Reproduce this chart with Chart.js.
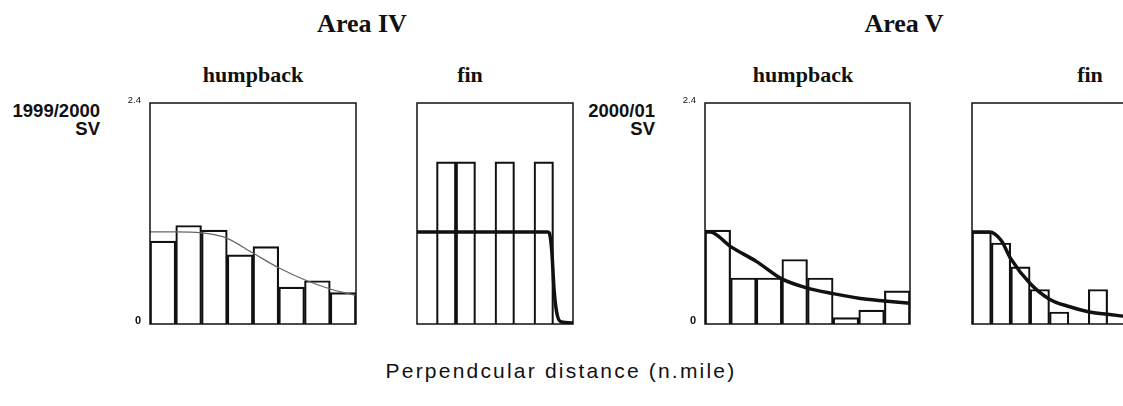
<!DOCTYPE html>
<html><head><meta charset="utf-8">
<script src="https://cdn.jsdelivr.net/npm/chart.js@4.4.0/dist/chart.umd.min.js"></script>
<style>
html,body{margin:0;padding:0;background:#fff;}
body{width:1123px;height:406px;overflow:hidden;position:relative;}
canvas{position:absolute;}
.t{position:absolute;white-space:nowrap;color:#111;line-height:1;}
.area{font:bold 26px "Liberation Serif",serif;transform:translateX(-50%);top:9px;}
.sp{font:bold 22px "Liberation Serif",serif;transform:translateX(-50%);top:62px;}
.yr{font:bold 18.5px "Liberation Sans",Arial,sans-serif;transform:translateX(-100%);text-align:right;}
.xt{font:21px "Liberation Sans",Arial,sans-serif;transform:translateX(-50%);top:359px;letter-spacing:2.2px;}
</style></head>
<body>
<div class="t area" style="left:362px">Area IV</div>
<div class="t area" style="left:904px">Area V</div>
<div class="t sp" style="left:253px">humpback</div>
<div class="t sp" style="left:470px">fin</div>
<div class="t sp" style="left:803px">humpback</div>
<div class="t sp" style="left:1090px">fin</div>
<div class="t yr" style="left:100px;top:100px">1999/2000</div>
<div class="t yr" style="left:100px;top:118px">SV</div>
<div class="t yr" style="left:655px;top:100px">2000/01</div>
<div class="t yr" style="left:655px;top:118px">SV</div>
<div class="t xt" style="left:561px">Perpendcular distance (n.mile)</div>

<canvas id="p1" width="260" height="240" style="left:100px;top:93px"></canvas>
<canvas id="p2" width="220" height="240" style="left:360px;top:93px"></canvas>
<canvas id="p3" width="260" height="240" style="left:655px;top:93px"></canvas>
<canvas id="p4" width="220" height="240" style="left:915px;top:93px"></canvas>

<script>
// distance bins (bin centres, in bin units) and axis tick labels
const binCenters = [0.5, 1.5, 2.5, 3.5, 4.5, 5.5, 6.5, 7.5];
const yTickValues = [0, 2.4];
const yTickLabels = ['0', '2.4'];

// Area IV, humpback
const ivHumpBars = [0.90, 1.07, 1.02, 0.75, 0.84, 0.40, 0.47, 0.34];
const ivHumpCurveX = [0, 1, 2, 2.5, 3, 4, 5, 6, 7, 8];
const ivHumpCurveY = [1.00, 1.00, 0.99, 0.97, 0.93, 0.77, 0.61, 0.48, 0.38, 0.31];

// Area IV, fin
const ivFinBars = [0, 1.76, 1.76, 0, 1.76, 0, 1.76, 0];
const ivFinCurveX = [0, 6.7, 6.78, 6.91, 7.03, 7.17, 7.37, 8];
const ivFinCurveY = [1.00, 1.00, 0.99, 0.80, 0.37, 0.12, 0.025, 0.01];

// Area V, humpback
const vHumpBars = [1.02, 0.50, 0.50, 0.70, 0.50, 0.07, 0.15, 0.36];
const vHumpCurveX = [0, 0.2, 1, 2, 3, 4, 5, 6, 7, 8];
const vHumpCurveY = [1.00, 1.00, 0.84, 0.68, 0.49, 0.39, 0.33, 0.28, 0.25, 0.225];

// Area V, fin
const vFinBars = [1.00, 0.88, 0.62, 0.375, 0.13, 0, 0.375, 0];
const vFinCurveX = [0, 0.9, 1.5, 2, 3, 4, 5, 6, 7, 8];
const vFinCurveY = [1.00, 1.00, 0.91, 0.71, 0.44, 0.27, 0.19, 0.134, 0.105, 0.08];

const framePlugin = {
  id: 'frame',
  afterDatasetsDraw(chart) {
    const a = chart.chartArea, c = chart.ctx;
    c.save();
    c.strokeStyle = '#111';
    c.lineWidth = 1.5;
    c.strokeRect(a.left, a.top, a.right - a.left, a.bottom - a.top);
    c.restore();
  }
};

function pts(xs, ys) { return xs.map((x, i) => ({x: x, y: ys[i]})); }

function makePanel(id, bars, cx, cy, showY, pad, curveStyle) {
  new Chart(document.getElementById(id), {
    data: {
      datasets: [
        {
          type: 'line', order: 0,
          data: pts(cx, cy),
          borderColor: curveStyle.color, borderWidth: curveStyle.width,
          pointRadius: 0, fill: false,
          cubicInterpolationMode: 'monotone', tension: 0.4
        },
        {
          type: 'bar', order: 1,
          data: pts(binCenters, bars),
          backgroundColor: 'rgba(255,255,255,0)',
          borderColor: '#111', borderWidth: 1.5,
          barPercentage: 1, categoryPercentage: 1
        }
      ]
    },
    options: {
      responsive: false, animation: false, devicePixelRatio: 1,
      layout: {padding: pad},
      plugins: {legend: {display: false}, tooltip: {enabled: false}, title: {display: false}},
      scales: {
        x: {type: 'linear', min: 0, max: 8, display: false, offset: false},
        y: {
          type: 'linear', min: 0, max: 2.4, display: showY,
          grid: {display: false, drawTicks: false},
          border: {display: false},
          afterBuildTicks: (s) => { s.ticks = yTickValues.map(v => ({value: v})); },
          afterFit: (s) => { s.width = 50; s.paddingTop = 0; s.paddingBottom = 0; },
          ticks: {
            padding: 9, labelOffset: -3, color: '#111',
            callback: (v) => yTickLabels[yTickValues.indexOf(v)],
            font: (ctx) => (ctx.tick && ctx.tick.value === 0)
              ? {family: 'Liberation Sans', size: 11, weight: 'bold'}
              : {family: 'Liberation Sans', size: 9.5}
          }
        }
      }
    },
    plugins: [framePlugin]
  });
}

const thin = {color: '#666', width: 1.2};
const thick = {color: '#111', width: 3.5};
makePanel('p1', ivHumpBars, ivHumpCurveX, ivHumpCurveY, true, {left: 0, right: 4, top: 10, bottom: 9}, thin);
makePanel('p2', ivFinBars, ivFinCurveX, ivFinCurveY, false, {left: 7, right: 7, top: 10, bottom: 9}, thick);
makePanel('p3', vHumpBars, vHumpCurveX, vHumpCurveY, true, {left: 0, right: 5, top: 10, bottom: 9}, thick);
makePanel('p4', vFinBars, vFinCurveX, vFinCurveY, false, {left: 7, right: 8, top: 10, bottom: 9}, thick);
</script>
</body></html>
